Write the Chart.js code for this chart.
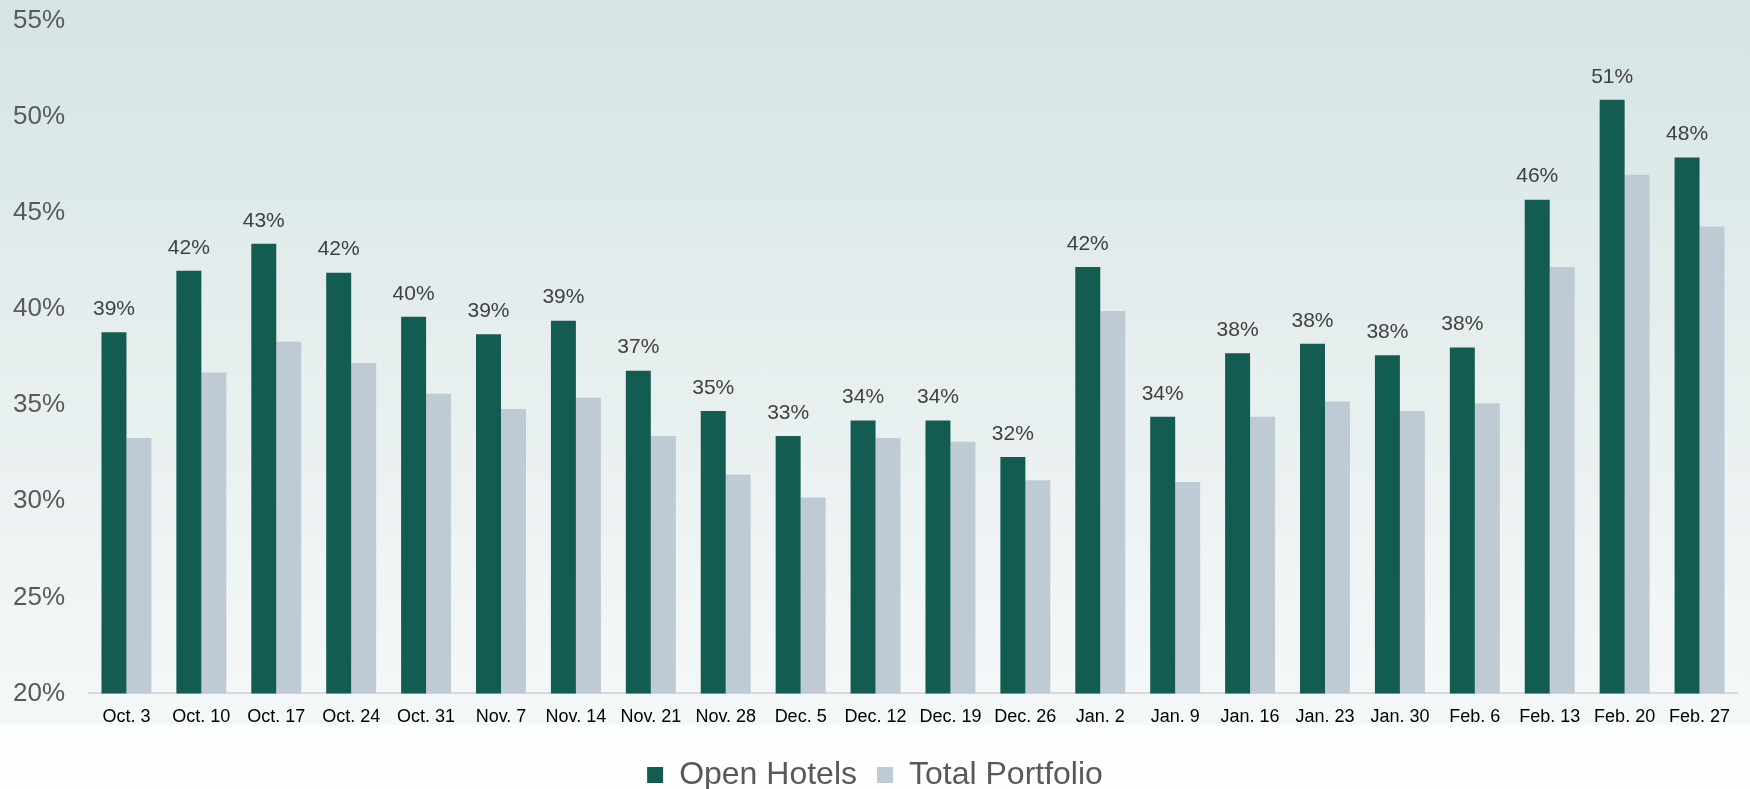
<!DOCTYPE html>
<html>
<head>
<meta charset="utf-8">
<script src="https://cdn.jsdelivr.net/npm/chart.js@4"></script>
<style>
  html, body { margin: 0; padding: 0; }
  body {
    width: 1750px; height: 789px; overflow: hidden;
    background: linear-gradient(to bottom, #d4e5e4 0px, #e6eeee 350px, #f5f8f9 724px, #fdfefe 726px, #fefefe 789px);
  }
  #wrap { width: 1750px; height: 789px; }
</style>
</head>
<body>
<div id="wrap"><canvas id="occChart"></canvas></div>
<script>
// weekly occupancy
const weeks = ["Oct. 3", "Oct. 10", "Oct. 17", "Oct. 24", "Oct. 31", "Nov. 7", "Nov. 14", "Nov. 21",
  "Nov. 28", "Dec. 5", "Dec. 12", "Dec. 19", "Dec. 26", "Jan. 2", "Jan. 9", "Jan. 16",
  "Jan. 23", "Jan. 30", "Feb. 6", "Feb. 13", "Feb. 20", "Feb. 27"];
const openHotels = [38.8, 42.0, 43.4, 41.9, 39.6, 38.7, 39.4, 36.8, 34.7, 33.4, 34.2, 34.2,
  32.3, 42.2, 34.4, 37.7, 38.2, 37.6, 38.0, 45.7, 50.9, 47.9];
const totalPortfolio = [33.3, 36.7, 38.3, 37.2, 35.6, 34.8, 35.4, 33.4, 31.4, 30.2, 33.3, 33.1,
  31.1, 39.9, 31.0, 34.4, 35.2, 34.7, 35.1, 42.2, 47.0, 44.3];
const yTicks = [20, 25, 30, 35, 40, 45, 50, 55];

const FONT = "'Liberation Sans', Arial, sans-serif";

// value labels above the green bars
const barLabels = {
  id: "barLabels",
  afterDatasetsDraw(chart) {
    const ctx = chart.ctx;
    const meta = chart.getDatasetMeta(0);
    ctx.save();
    ctx.font = "21px " + FONT;
    ctx.fillStyle = "#404040";
    ctx.textAlign = "center";
    ctx.textBaseline = "middle";
    meta.data.forEach((bar, i) => {
      ctx.fillText(Math.round(openHotels[i]) + "%", bar.x, bar.y - 23);
    });
    ctx.restore();
  }
};

// legend box is a bit tall, trim its bottom so it sits lower
const legendTrim = {
  id: "legendTrim",
  beforeLayout(chart) {
    const lg = chart.legend;
    if (lg && !lg._trimmed) {
      const fit = lg.fit;
      lg.fit = function () { fit.call(this); this.height -= 12; };
      lg._trimmed = true;
    }
  }
};

new Chart(document.getElementById("occChart").getContext("2d"), {
  type: "bar",
  data: {
    labels: weeks,
    datasets: [{
      label: "Open Hotels",
      data: openHotels,
      backgroundColor: "#135c51",
      categoryPercentage: 0.667,
      barPercentage: 1.0
    }, {
      label: "Total Portfolio",
      data: totalPortfolio,
      backgroundColor: "#bfcbd4",
      categoryPercentage: 0.667,
      barPercentage: 1.0
    }]
  },
  options: {
    responsive: true,
    maintainAspectRatio: false,
    animation: false,
    layout: { padding: { left: 13, right: 13, top: 21, bottom: 0 } },
    plugins: {
      tooltip: { enabled: false },
      legend: {
        position: "bottom",
        labels: {
          font: { family: FONT, size: 32 },
          color: "#595959",
          boxWidth: 16,
          boxHeight: 16,
          padding: 20
        }
      }
    },
    scales: {
      x: {
        grid: { display: false, drawTicks: false },
        border: { display: true, color: "#d9d9d9", width: 2 },
        afterFit: axis => { axis.height -= 2; },
        ticks: {
          font: { family: FONT, size: 18 },
          color: "#000000",
          padding: 13,
          maxRotation: 0,
          autoSkip: false
        }
      },
      y: {
        min: 20,
        max: 55,
        afterBuildTicks: axis => { axis.ticks = yTicks.map(v => ({ value: v })); },
        afterFit: axis => { axis.width = 76; },
        grid: { display: false, drawTicks: false },
        border: { display: false },
        ticks: {
          font: { family: FONT, size: 26 },
          color: "#595959",
          padding: 0,
          crossAlign: "far",
          callback: v => v + "%"
        }
      }
    }
  },
  plugins: [barLabels, legendTrim]
});
</script>
</body>
</html>
